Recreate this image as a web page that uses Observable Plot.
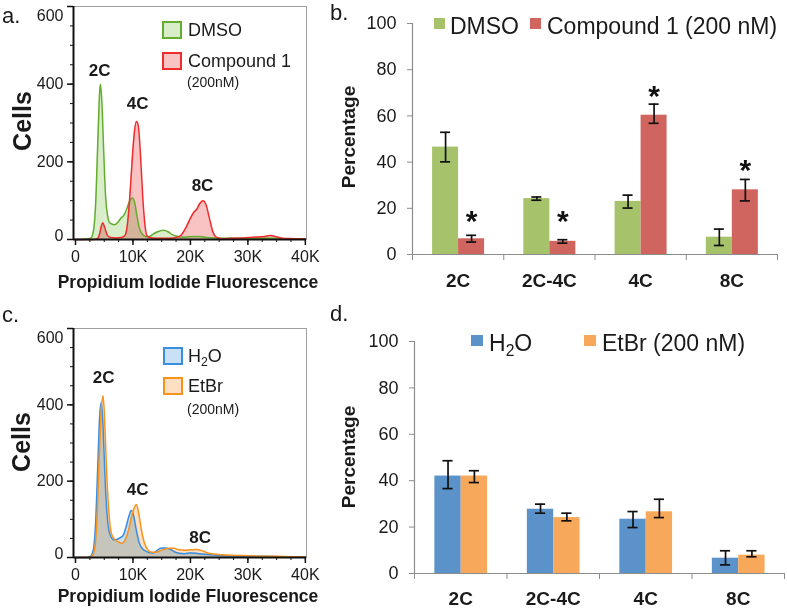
<!DOCTYPE html>
<html><head><meta charset="utf-8">
<script src="https://cdn.jsdelivr.net/npm/d3@7"></script>
<script src="https://cdn.jsdelivr.net/npm/@observablehq/plot@0.6"></script>
<style>
body{margin:0;background:#fff;}
#fig{position:relative;width:787px;height:609px;overflow:hidden;font-family:"Liberation Sans",Arial,Helvetica,sans-serif;color:#1a1a1a;background:#fff;}
.panel{position:absolute;}
.t{position:absolute;white-space:nowrap;line-height:1;}
.box{position:absolute;box-sizing:border-box;}
</style></head><body><div id="fig"></div>
<script>
// ---------- Histogram data (x in thousands of fluorescence units, y = cells) ----------
const dmsoCurve = [[0,0],[1,0],[2,1],[2.7,4],[3.1,20],[3.5,90],[3.9,260],[4.2,380],[4.35,400],[4.6,350],[4.9,230],[5.2,120],[5.6,60],[6,42],[6.8,38],[7.4,45],[7.9,55],[8.4,62],[8.9,78],[9.4,98],[9.9,107],[10.3,95],[10.7,60],[11.1,30],[11.6,14],[12.2,8],[12.8,8],[13.5,14],[14.3,20],[15.3,24],[16.1,20],[16.9,12],[17.8,8],[19,6],[20.5,8],[21.5,8],[22.5,6],[24,4],[26,3],[28,3],[30,2],[32,3],[34,3],[36,2],[38,1],[40,1]];
const compoundCurve = [[0,0],[3,0],[3.8,2],[4.2,15],[4.5,35],[4.75,43],[5.1,30],[5.5,12],[6.1,5],[7,4],[8,5],[8.6,10],[9,35],[9.4,100],[9.8,190],[10.2,270],[10.6,304],[10.9,295],[11.3,220],[11.7,110],[12.1,35],[12.5,8],[13.2,4],[15,3],[16.5,3],[17.5,5],[18.3,10],[19.2,30],[20,55],[20.6,70],[21.1,78],[21.6,92],[22.2,100],[22.7,90],[23.3,55],[23.9,20],[24.5,6],[25.5,2],[27,3],[29,4],[31,6],[33,8],[33.9,10],[35,7],[36,3],[38,2],[40,1]];
const h2oCurve = [[0,0],[2,0],[2.6,3],[3.1,20],[3.5,90],[3.9,250],[4.2,370],[4.5,407],[4.8,340],[5.1,220],[5.5,110],[6,60],[6.7,46],[7.3,48],[7.8,52],[8.3,58],[8.8,80],[9.3,108],[9.7,123],[10.1,110],[10.6,70],[11.1,38],[11.7,22],[12.2,17],[12.8,13],[13.5,12],[14.2,18],[14.8,24],[15.6,25],[16.4,22],[17.2,15],[18,11],[19,10],[20,12],[21,11],[22,9],[23.5,7],[25,5],[27,4],[30,3],[33,3],[36,2],[38,2],[40,2]];
const etbrCurve = [[0,0],[2.2,0],[2.8,3],[3.3,20],[3.7,90],[4.1,250],[4.5,390],[4.8,424],[5.1,350],[5.4,230],[5.8,120],[6.3,60],[7,45],[7.6,40],[8.1,37],[8.6,45],[9.2,70],[9.8,110],[10.3,133],[10.6,139],[11,115],[11.5,70],[12,38],[12.6,20],[13.2,14],[14,14],[14.8,18],[15.6,22],[16.4,24],[17.2,24],[18,20],[19,19],[20,20],[21,21],[22,18],[23,12],[24,9],[25.5,7],[27,6],[29,5],[31,4],[33,3],[35,3],[37,2],[40,1]];

const peakLabels = ["2C","4C","8C"];
const peakXA = [4.2, 10.8, 22.1];
const peakYA = [434, 350, 139];
const peakXC = [4.9, 10.8, 21.7];
const peakYC = [471, 178, 52];

const histYMajor = [0, 200, 400, 600];
const histYMinor = d3.range(0, 601, 50);
const histXMajor = [0, 10, 20, 30, 40];
const histXMinor = d3.range(0, 40.1, 2.5);

// ---------- Bar chart data ----------
const categories = ["2C", "2C-4C", "4C", "8C"];
const dmsoPct = [46.5, 24.2, 23.0, 7.5];
const dmsoLo  = [40.1, 23.5, 20.1, 3.9];
const dmsoHi  = [52.9, 24.9, 25.7, 11.0];
const cmpdPct = [6.8, 5.7, 60.3, 28.0];
const cmpdLo  = [5.4, 4.9, 56.8, 23.2];
const cmpdHi  = [8.3, 6.4, 65.1, 32.5];
const asteriskY = [17.7, 17.7, 72, 40];
const h2oPct  = [42.0, 27.7, 23.4, 6.6];
const h2oLo   = [36.6, 26.0, 19.8, 3.7];
const h2oHi   = [48.6, 29.9, 26.7, 9.8];
const etbrPct = [42.0, 24.1, 26.6, 7.9];
const etbrLo  = [39.2, 22.7, 24.1, 7.2];
const etbrHi  = [44.3, 26.0, 32.0, 9.8];
const pctTicks = [0, 20, 40, 60, 80, 100];

// ---------- Colours ----------
const C = {
  dmsoStroke: "#62ad2e", dmsoFill: "#d9edcb",
  cmpdStroke: "#ef2b2b", cmpdFill: "#f9c3c3",
  h2oStroke: "#3a8ee0", h2oFill: "#c8e1f5",
  etbrStroke: "#f7921c", etbrFill: "#fde0c3",
  barGreen: "#a6c36b", barRed: "#d0645e", barBlue: "#5b92ca", barOrange: "#f8a85a"
};

const FONT = '"Liberation Sans", Arial, Helvetica, sans-serif';
const fig = document.getElementById("fig");

function place(node, left, top) {
  const w = document.createElement("div");
  w.className = "panel"; w.style.left = left + "px"; w.style.top = top + "px";
  w.appendChild(node); fig.appendChild(w);
}
function label(html, x, y, {size = 16, weight = "normal", anchor = "start", rotate = 0} = {}) {
  const d = document.createElement("div");
  d.className = "t";
  d.style.left = x + "px"; d.style.top = y + "px";
  d.style.fontSize = size + "px"; d.style.fontWeight = weight;
  const tx = anchor === "start" ? "0" : anchor === "middle" ? "-50%" : "-100%";
  d.style.transform = `translate(${tx},-50%)` + (rotate ? ` rotate(${rotate}deg)` : "");
  d.innerHTML = html;
  fig.appendChild(d);
}
function box(x, y, w, h, fill, border) {
  const d = document.createElement("div");
  d.className = "box";
  d.style.left = x + "px"; d.style.top = y + "px";
  d.style.width = w + "px"; d.style.height = h + "px";
  d.style.background = fill;
  if (border) d.style.border = `2px solid ${border}`;
  fig.appendChild(d);
}

const X_DOMAIN = [-0.35, 40.2];
const fmtK = d => d === 0 ? "0" : d + "K";

function histogram({height, marginTop, marginBottom, curves, peakX, peakY}) {
  const xy = {x: d => d[0], y: d => d[1], curve: "monotone-x"};
  return Plot.plot({
    width: 340, height, marginLeft: 73, marginRight: 34, marginTop, marginBottom,
    x: {domain: X_DOMAIN},
    y: {domain: [0, 600]},
    style: {fontFamily: FONT, fontSize: "16px", color: "#1a1a1a", background: "transparent", overflow: "visible"},
    marks: [
      Plot.frame({stroke: "#a0a0a0"}),
      ...curves.map(c => Plot.areaY(c.data, {...xy, fill: c.fill, mixBlendMode: "multiply"})),
      ...curves.map(c => Plot.line(c.data, {...xy, stroke: c.stroke, strokeWidth: 1.5})),
      Plot.text(peakLabels, {x: (d, i) => peakX[i], y: (d, i) => peakY[i], text: d => d, fontWeight: "bold", fontSize: 17}),
      Plot.ruleY([0], {stroke: "#111", strokeWidth: 2}),
      Plot.ruleX([X_DOMAIN[0]], {stroke: "#111", strokeWidth: 2}),
      Plot.axisY({ticks: histYMajor, tickSize: 6, strokeWidth: 1.5, stroke: "#111", fill: "none", label: null}),
      Plot.axisY({ticks: histYMinor, tickSize: 3, stroke: "#111", fill: "none", label: null}),
      Plot.axisY({ticks: [0], tickSize: 0, tickPadding: 10, dy: -4, fill: "#1a1a1a", fontSize: 16, label: null}),
      Plot.axisY({ticks: [200, 400], tickSize: 0, tickPadding: 10, fill: "#1a1a1a", fontSize: 16, label: null}),
      Plot.axisY({ticks: [600], tickSize: 0, tickPadding: 10, dy: 9, fill: "#1a1a1a", fontSize: 16, label: null}),
      Plot.axisX({ticks: histXMajor, tickSize: 6, strokeWidth: 1.5, stroke: "#111", tickPadding: 5, tickFormat: fmtK, fill: "#1a1a1a", fontSize: 16, label: null}),
      Plot.axisX({ticks: histXMinor, tickSize: 3, stroke: "#111", fill: "none", label: null})
    ]
  });
}

const BAR_OFFSETS = [0.22, 0.505];
const BAR_W = 0.285;
const CAP = 0.055;

function barPanel({height, marginLeft, marginRight, marginTop, marginBottom, series, stars, labelDy}) {
  const idx = d3.range(categories.length);
  const marks = [
    Plot.axisY({ticks: pctTicks, tickSize: 5, tickPadding: 11, stroke: "#8c8c8c", fill: "#1a1a1a", fontSize: 18, label: null}),
    Plot.axisX({ticks: d3.range(0, categories.length + 1), tickSize: 6, stroke: "#8c8c8c", fill: "none", label: null})
  ];
  series.forEach((s, k) => {
    const x0 = BAR_OFFSETS[k];
    marks.push(Plot.rectY(idx, {x1: i => i + x0, x2: i => i + x0 + BAR_W, y1: 0, y2: i => s.values[i], fill: s.color}));
  });
  marks.push(Plot.ruleX([0], {stroke: "#8c8c8c", strokeWidth: 1.2}));
  marks.push(Plot.ruleY([0], {stroke: "#8c8c8c", strokeWidth: 1.2}));
  series.forEach((s, k) => {
    const c = BAR_OFFSETS[k] + BAR_W / 2;
    const st = {stroke: "#111", strokeWidth: 1.7};
    marks.push(Plot.ruleX(idx, {x: i => i + c, y1: i => s.lo[i], y2: i => s.hi[i], ...st}));
    marks.push(Plot.ruleY(idx, {y: i => s.lo[i], x1: i => i + c - CAP, x2: i => i + c + CAP, ...st}));
    marks.push(Plot.ruleY(idx, {y: i => s.hi[i], x1: i => i + c - CAP, x2: i => i + c + CAP, ...st}));
  });
  marks.push(Plot.text(categories, {x: (d, i) => i + 0.5, y: 0, dy: labelDy, text: d => d, fontWeight: "bold", fontSize: 19, fill: "#1a1a1a"}));
  if (stars) {
    const c = BAR_OFFSETS[1] + BAR_W / 2;
    marks.push(Plot.text(idx, {x: i => i + c, y: i => stars[i], text: () => "*", fontSize: 30, fontWeight: "bold", dy: 8, fill: "#111"}));
  }
  return Plot.plot({
    width: 447, height, marginLeft, marginRight, marginTop, marginBottom,
    x: {domain: [0, categories.length]},
    y: {domain: [0, 100]},
    style: {fontFamily: FONT, fontSize: "18px", color: "#1a1a1a", background: "transparent", overflow: "visible"},
    marks
  });
}

// Panel a
place(histogram({height: 300, marginTop: 6, marginBottom: 61,
  curves: [{data: dmsoCurve, fill: C.dmsoFill, stroke: C.dmsoStroke}, {data: compoundCurve, fill: C.cmpdFill, stroke: C.cmpdStroke}],
  peakX: peakXA, peakY: peakYA}), 0, 0);
// Panel b
place(barPanel({height: 300, marginLeft: 72, marginRight: 10, marginTop: 23, marginBottom: 46, labelDy: 26,
  series: [{values: dmsoPct, lo: dmsoLo, hi: dmsoHi, color: C.barGreen}, {values: cmpdPct, lo: cmpdLo, hi: cmpdHi, color: C.barRed}],
  stars: asteriskY}), 340, 0);
// Panel c
place(histogram({height: 309, marginTop: 28, marginBottom: 52,
  curves: [{data: h2oCurve, fill: C.h2oFill, stroke: C.h2oStroke}, {data: etbrCurve, fill: C.etbrFill, stroke: C.etbrStroke}],
  peakX: peakXC, peakY: peakYC}), 0, 300);
// Panel d
place(barPanel({height: 309, marginLeft: 74, marginRight: 3, marginTop: 41, marginBottom: 36, labelDy: 25,
  series: [{values: h2oPct, lo: h2oLo, hi: h2oHi, color: C.barBlue}, {values: etbrPct, lo: etbrLo, hi: etbrHi, color: C.barOrange}],
  stars: null}), 340, 300);

// Panel letters
label("a.", 2, 16, {size: 22});
label("b.", 330, 13, {size: 22});
label("c.", 2, 315, {size: 22});
label("d.", 330, 314, {size: 22});

// Histogram axis titles
label("Cells", 22, 121, {size: 25, weight: "bold", anchor: "middle", rotate: -90});
label("Cells", 21, 442, {size: 25, weight: "bold", anchor: "middle", rotate: -90});
label("Propidium Iodide Fluorescence", 188, 283, {size: 17.5, weight: "bold", anchor: "middle"});
label("Propidium Iodide Fluorescence", 188, 597, {size: 17.5, weight: "bold", anchor: "middle"});

// Bar axis titles
label("Percentage", 348, 137, {size: 19, weight: "bold", anchor: "middle", rotate: -90});
label("Percentage", 348, 457, {size: 19, weight: "bold", anchor: "middle", rotate: -90});

// Histogram legends
box(162, 21, 20, 18, C.dmsoFill, C.dmsoStroke);
label("DMSO", 188, 30, {size: 18});
box(162, 52, 20, 18, C.cmpdFill, C.cmpdStroke);
label("Compound 1", 188, 61, {size: 18});
label("(200nM)", 187, 82, {size: 14});

box(163, 347, 20, 18, C.h2oFill, C.h2oStroke);
label('H<span style="font-size:0.68em;position:relative;top:0.3em">2</span>O', 188, 356, {size: 18});
box(163, 377, 20, 18, C.etbrFill, C.etbrStroke);
label("EtBr", 188, 386, {size: 18});
label("(200nM)", 187, 409, {size: 14});

// Bar legends
box(434, 18, 11, 11, C.barGreen);
label("DMSO", 450, 26, {size: 23});
box(530, 18, 11, 11, C.barRed);
label("Compound 1 (200 nM)", 547, 26, {size: 23});

box(471, 335, 12, 11, C.barBlue);
label('H<span style="font-size:0.68em;position:relative;top:0.3em">2</span>O', 489, 343, {size: 23});
box(584, 335, 12, 11, C.barOrange);
label("EtBr (200 nM)", 602, 343, {size: 23});
</script>
</body></html>
